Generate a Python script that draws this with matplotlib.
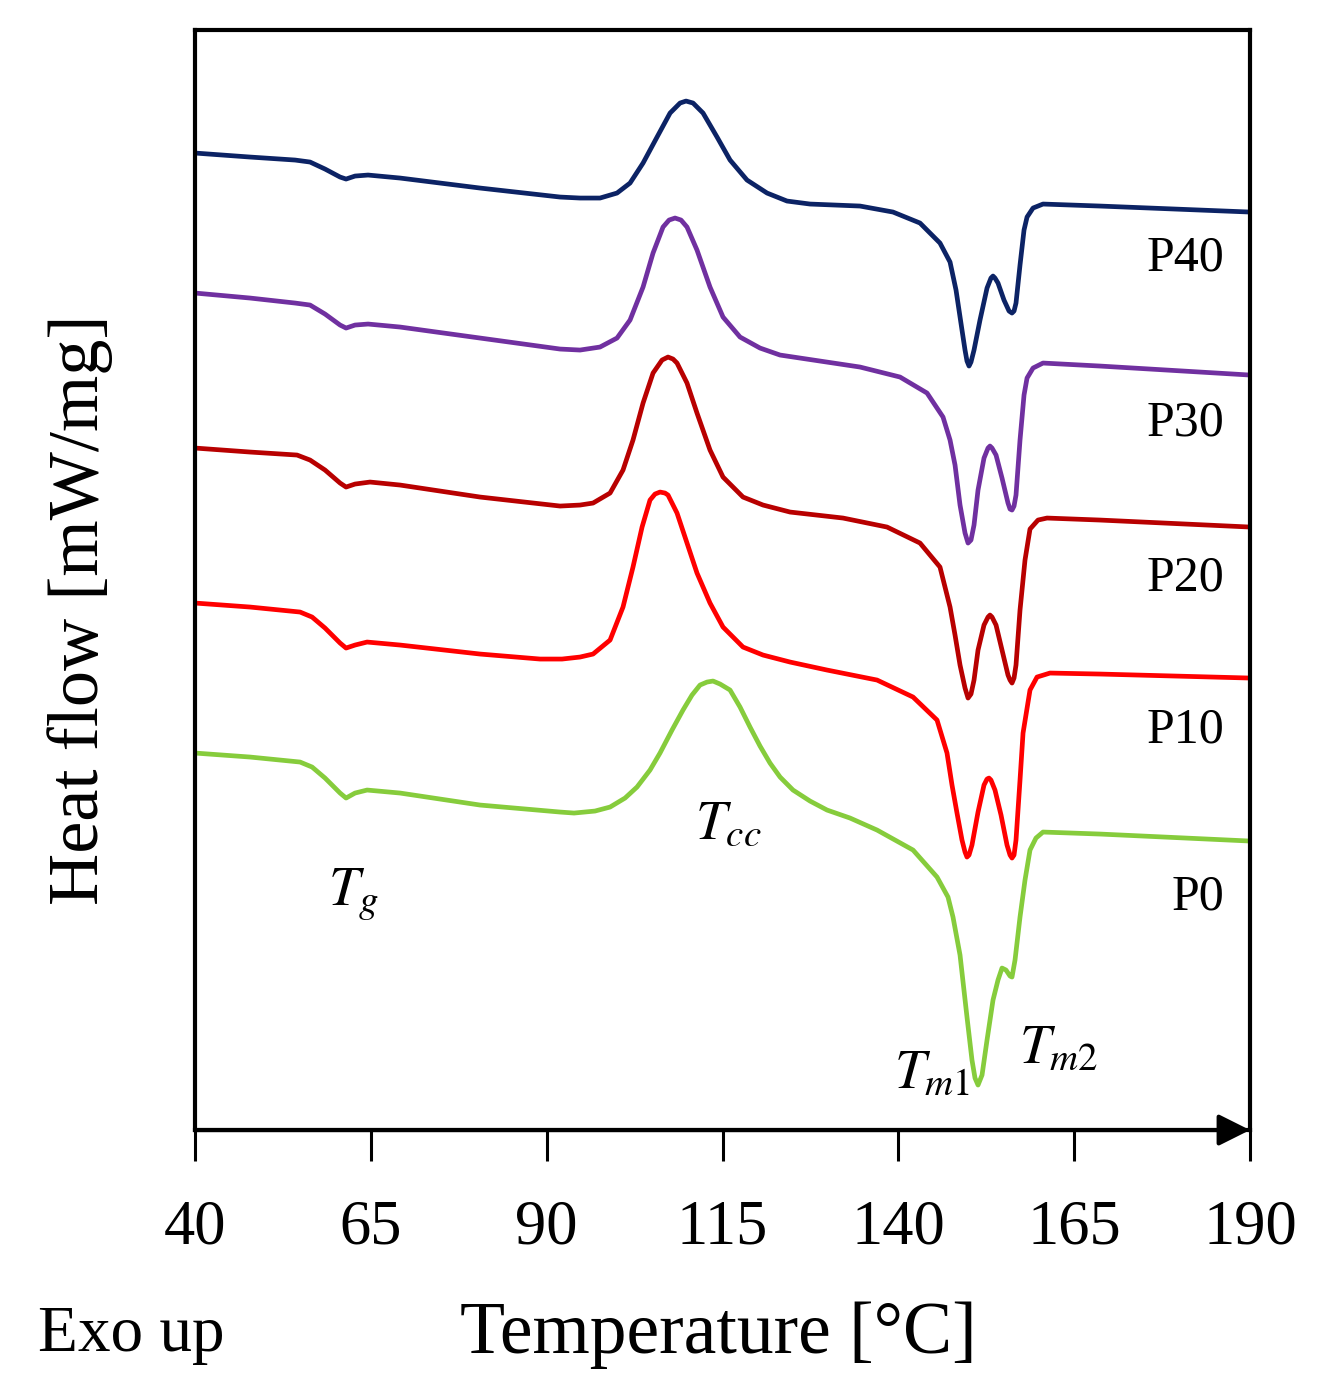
import matplotlib
matplotlib.use("Agg")
import matplotlib.pyplot as plt

plt.rcParams['font.family'] = ['Liberation Serif', 'DejaVu Serif']
plt.rcParams['mathtext.fontset'] = 'stix'

# ---- data: temperature (°C) and heat-flow readings (stacked, arbitrary units) ----
P40_T = [40.00, 47.82, 54.22, 56.35, 58.48, 60.62, 61.47, 62.75, 64.60, 69.15,
         80.52, 91.90, 94.74, 97.58, 100.00, 101.85, 103.70, 105.69, 107.54, 108.96,
         109.81, 110.81, 112.23, 114.22, 116.07, 118.48, 121.33, 124.17, 127.44, 134.55,
         139.24, 143.08, 145.92, 147.35, 148.20, 149.05, 149.48, 149.76, 150.05, 150.33,
         150.76, 151.61, 152.61, 153.17, 153.46, 153.74, 154.17, 155.02, 155.74, 156.16,
         156.45, 156.73, 157.30, 157.87, 158.30, 159.15, 160.57, 168.67, 190.00]
P40_Y = [9.77, 9.73, 9.70, 9.68, 9.61, 9.53, 9.51, 9.54, 9.55, 9.52,
         9.42, 9.33, 9.32, 9.32, 9.37, 9.47, 9.67, 9.93, 10.17, 10.27,
         10.29, 10.27, 10.17, 9.93, 9.70, 9.50, 9.37, 9.29, 9.26, 9.24,
         9.18, 9.07, 8.87, 8.68, 8.40, 8.00, 7.80, 7.69, 7.64, 7.68,
         7.80, 8.10, 8.42, 8.52, 8.54, 8.52, 8.47, 8.30, 8.19, 8.17,
         8.19, 8.27, 8.65, 9.00, 9.13, 9.22, 9.26, 9.24, 9.18]

P30_T = [40.00, 47.82, 54.22, 56.35, 58.48, 60.62, 61.47, 62.75, 64.60, 69.15,
         80.52, 91.90, 94.74, 97.58, 100.00, 101.85, 103.70, 105.12, 106.54, 107.40,
         108.25, 109.10, 109.95, 111.37, 113.22, 115.07, 117.49, 120.33, 123.18, 126.02,
         134.55, 140.24, 144.08, 146.35, 147.35, 148.06, 148.77, 149.48, 149.91, 150.33,
         150.76, 151.33, 152.18, 152.75, 153.03, 153.32, 153.89, 154.74, 155.59, 155.88,
         156.16, 156.45, 156.73, 157.30, 157.87, 158.30, 159.15, 160.57, 168.67, 190.00]
P30_Y = [8.37, 8.32, 8.27, 8.25, 8.16, 8.05, 8.02, 8.05, 8.06, 8.03,
         7.92, 7.81, 7.80, 7.83, 7.92, 8.10, 8.43, 8.77, 9.03, 9.10,
         9.12, 9.10, 9.03, 8.80, 8.43, 8.13, 7.93, 7.82, 7.75, 7.72,
         7.63, 7.53, 7.37, 7.13, 6.90, 6.65, 6.25, 5.97, 5.87, 5.90,
         6.05, 6.40, 6.72, 6.82, 6.84, 6.82, 6.75, 6.52, 6.27, 6.21,
         6.20, 6.24, 6.35, 6.90, 7.35, 7.52, 7.62, 7.67, 7.64, 7.55]

P20_T = [40.00, 47.82, 54.50, 56.35, 58.48, 60.62, 61.47, 62.75, 64.88, 69.15,
         80.52, 91.90, 94.74, 96.59, 99.01, 100.85, 102.27, 103.70, 105.12, 106.40,
         107.25, 107.96, 108.53, 109.95, 111.37, 113.22, 115.07, 117.91, 120.76, 124.60,
         132.13, 138.39, 143.08, 145.92, 147.35, 148.06, 148.77, 149.48, 149.91, 150.33,
         150.76, 151.33, 152.18, 152.75, 153.03, 153.32, 153.89, 154.74, 155.59, 155.88,
         156.16, 156.45, 156.73, 157.30, 158.01, 158.72, 159.86, 161.14, 168.67, 190.00]
P20_Y = [6.82, 6.78, 6.75, 6.70, 6.60, 6.47, 6.43, 6.46, 6.48, 6.45,
         6.33, 6.24, 6.25, 6.27, 6.37, 6.60, 6.90, 7.27, 7.57, 7.70,
         7.73, 7.71, 7.67, 7.47, 7.17, 6.80, 6.53, 6.33, 6.25, 6.18,
         6.12, 6.03, 5.87, 5.63, 5.23, 4.95, 4.65, 4.42, 4.32, 4.36,
         4.50, 4.80, 5.05, 5.13, 5.15, 5.13, 5.05, 4.80, 4.55, 4.50,
         4.47, 4.52, 4.65, 5.20, 5.70, 6.01, 6.10, 6.12, 6.10, 6.03]

P10_T = [40.00, 47.82, 54.93, 56.64, 58.48, 60.62, 61.47, 62.75, 64.46, 69.15,
         80.52, 89.05, 92.18, 94.74, 96.59, 99.01, 100.85, 102.27, 103.56, 104.69,
         105.40, 106.11, 106.82, 107.25, 108.53, 109.95, 111.37, 113.22, 115.07, 117.91,
         120.76, 124.60, 129.86, 136.97, 142.09, 145.50, 146.92, 147.63, 148.34, 149.05,
         149.48, 149.76, 150.05, 150.47, 151.33, 152.18, 152.61, 152.89, 153.17, 153.74,
         154.60, 155.45, 155.88, 156.16, 156.45, 156.73, 157.30, 157.73, 158.72, 159.72,
         161.56, 168.67, 190.00]
P10_Y = [5.27, 5.23, 5.18, 5.13, 5.02, 4.87, 4.82, 4.85, 4.88, 4.85,
         4.76, 4.71, 4.71, 4.73, 4.76, 4.90, 5.23, 5.63, 6.03, 6.30,
         6.36, 6.38, 6.37, 6.35, 6.17, 5.87, 5.57, 5.27, 5.03, 4.83,
         4.75, 4.68, 4.60, 4.50, 4.33, 4.10, 3.77, 3.45, 3.17, 2.90,
         2.78, 2.73, 2.75, 2.85, 3.18, 3.45, 3.51, 3.52, 3.50, 3.40,
         3.15, 2.85, 2.75, 2.72, 2.75, 2.90, 3.50, 3.97, 4.40, 4.53,
         4.57, 4.56, 4.52]

P0_T = [40.00, 47.82, 54.93, 56.64, 58.48, 60.62, 61.47, 62.75, 64.46, 69.15,
        80.52, 91.90, 93.89, 96.87, 99.01, 101.14, 102.84, 104.69, 106.11, 107.82,
        109.38, 110.66, 111.80, 112.80, 113.65, 114.65, 116.07, 117.49, 118.91, 120.33,
        121.75, 123.18, 125.02, 127.44, 129.86, 133.13, 136.97, 142.09, 145.50, 147.06,
        147.77, 148.77, 149.76, 150.47, 150.90, 151.33, 151.90, 152.61, 153.46, 154.17,
        154.74, 155.31, 155.88, 156.16, 156.59, 157.30, 158.01, 158.72, 159.57, 160.57,
        168.67, 190.00]
P0_Y = [3.77, 3.73, 3.68, 3.63, 3.52, 3.37, 3.32, 3.37, 3.40, 3.37,
        3.25, 3.18, 3.17, 3.19, 3.23, 3.32, 3.43, 3.60, 3.77, 4.00,
        4.20, 4.35, 4.45, 4.48, 4.49, 4.46, 4.40, 4.23, 4.03, 3.84,
        3.67, 3.53, 3.40, 3.29, 3.20, 3.12, 3.00, 2.80, 2.53, 2.33,
        2.13, 1.75, 1.13, 0.70, 0.52, 0.45, 0.55, 0.90, 1.30, 1.50,
        1.62, 1.60, 1.54, 1.53, 1.70, 2.13, 2.50, 2.80, 2.92, 2.98,
        2.96, 2.89]

series_names = ['P40', 'P30', 'P20', 'P10', 'P0']
series_T = [P40_T, P30_T, P20_T, P10_T, P0_T]
series_Y = [P40_Y, P30_Y, P20_Y, P10_Y, P0_Y]
series_colors = ['#0c2365', '#7030a0', '#b80000', '#ff0000', '#86cc3c']
label_y = [8.72, 7.07, 5.52, 4.00, 2.33]

xticks = [40, 65, 90, 115, 140, 165, 190]

# ---- figure ----
fig = plt.figure(figsize=(13.18, 13.91), dpi=100)
ax = fig.add_axes([0.148, 0.1876, 0.8004, 0.7908])

for T, Y, c in zip(series_T, series_Y, series_colors):
    ax.plot(T, Y, color=c, lw=3.4, solid_joinstyle='round', solid_capstyle='round')

for name, ly in zip(series_names, label_y):
    ax.text(186.4, ly, name, ha='right', va='center', fontsize=36)

ax.text(58.9, 2.25, r'$T_{g}$', fontsize=40, ha='left', va='baseline')
ax.text(111.1, 2.92, r'$T_{cc}$', fontsize=40, ha='left', va='baseline')
ax.text(139.4, 0.43, r'$T_{m1}$', fontsize=40, ha='left', va='baseline')
ax.text(157.2, 0.68, r'$T_{m2}$', fontsize=40, ha='left', va='baseline')

ax.set_xlim(40, 190)
ax.set_ylim(0, 11)
ax.set_xticks(xticks)
ax.set_xticklabels([str(v) for v in xticks], fontsize=45)
ax.set_yticks([])
ax.tick_params(axis='x', direction='out', length=22, width=2.2, pad=28)
for s in ax.spines.values():
    s.set_linewidth(3)
    s.set_color('black')

ax.annotate('', xy=(1.0, 0), xytext=(0.0, 0), xycoords='axes fraction',
            arrowprops=dict(arrowstyle='-|>', mutation_scale=48, lw=3, color='black',
                            shrinkA=0, shrinkB=0), annotation_clip=False)

fig.text(0.545, 0.040, 'Temperature [°C]', ha='center', va='center', fontsize=53)
fig.text(0.0995, 0.040, 'Exo up', ha='center', va='center', fontsize=47)
fig.text(0.0607, 0.5615, 'Heat flow [mW/mg]', ha='center', va='center', rotation=90, fontsize=52)

fig.savefig('out.png', dpi=100)
